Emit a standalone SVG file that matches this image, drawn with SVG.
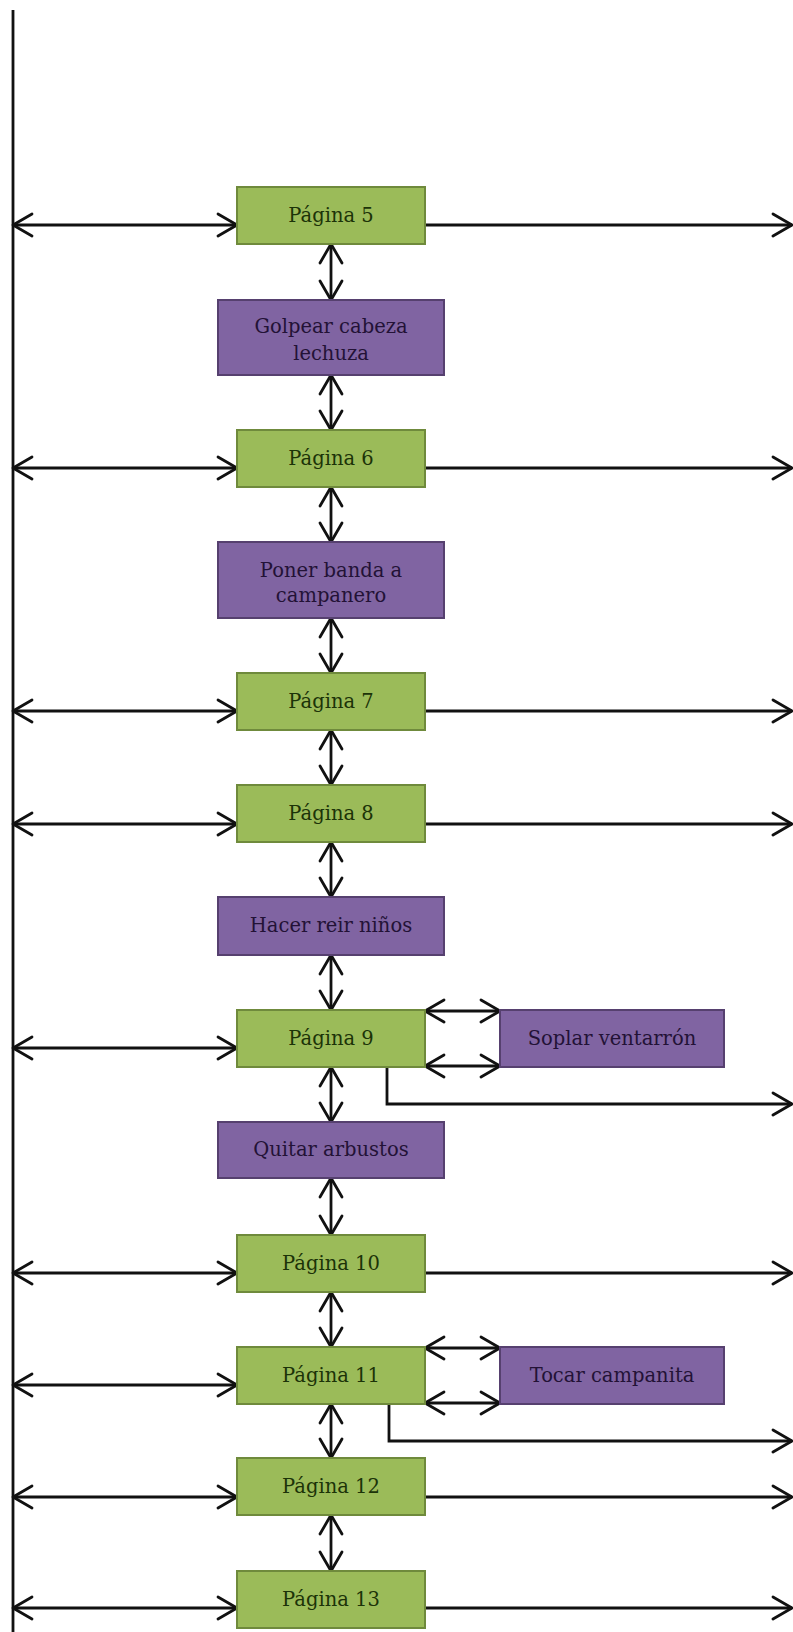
<svg xmlns="http://www.w3.org/2000/svg" width="793" height="1632" viewBox="0 0 793 1632">
<style>
.g rect{fill:#9bbb59;stroke:#6f8a3c;stroke-width:2}
.p rect{fill:#8064a2;stroke:#56406f;stroke-width:2}
text{font-family:"DejaVu Serif","Liberation Serif",serif;font-size:19.5px;text-anchor:middle}
.g text{fill:#1c3308}
.p text{fill:#231236}
.c path,.c line{fill:none;stroke:#111;stroke-width:2.8}
</style>
<defs>
<marker id="ah" viewBox="0 0 26 26" refX="22" refY="13" markerWidth="26" markerHeight="26" markerUnits="userSpaceOnUse" orient="auto-start-reverse">
<path d="M3,2 L22,13 L3,24" fill="none" stroke="#111" stroke-width="2.8" stroke-linecap="round" stroke-linejoin="round"/>
</marker>
</defs>
<rect width="793" height="1632" fill="#fff"/>
<g class="c" id="connectors">
<line x1="13" y1="10" x2="13" y2="1632"/>
<line x1="13" y1="225" x2="237" y2="225" marker-start="url(#ah)" marker-end="url(#ah)"/>
<line x1="13" y1="468" x2="237" y2="468" marker-start="url(#ah)" marker-end="url(#ah)"/>
<line x1="13" y1="711" x2="237" y2="711" marker-start="url(#ah)" marker-end="url(#ah)"/>
<line x1="13" y1="824" x2="237" y2="824" marker-start="url(#ah)" marker-end="url(#ah)"/>
<line x1="13" y1="1048" x2="237" y2="1048" marker-start="url(#ah)" marker-end="url(#ah)"/>
<line x1="13" y1="1273" x2="237" y2="1273" marker-start="url(#ah)" marker-end="url(#ah)"/>
<line x1="13" y1="1385" x2="237" y2="1385" marker-start="url(#ah)" marker-end="url(#ah)"/>
<line x1="13" y1="1497" x2="237" y2="1497" marker-start="url(#ah)" marker-end="url(#ah)"/>
<line x1="13" y1="1608" x2="237" y2="1608" marker-start="url(#ah)" marker-end="url(#ah)"/>
<line x1="425" y1="225" x2="792" y2="225" marker-end="url(#ah)"/>
<line x1="425" y1="468" x2="792" y2="468" marker-end="url(#ah)"/>
<line x1="425" y1="711" x2="792" y2="711" marker-end="url(#ah)"/>
<line x1="425" y1="824" x2="792" y2="824" marker-end="url(#ah)"/>
<path d="M387,1067 V1104 H792" marker-end="url(#ah)"/>
<line x1="425" y1="1273" x2="792" y2="1273" marker-end="url(#ah)"/>
<path d="M389,1404 V1441 H792" marker-end="url(#ah)"/>
<line x1="425" y1="1497" x2="792" y2="1497" marker-end="url(#ah)"/>
<line x1="425" y1="1608" x2="792" y2="1608" marker-end="url(#ah)"/>
<line x1="425" y1="1011" x2="500" y2="1011" marker-start="url(#ah)" marker-end="url(#ah)"/>
<line x1="425" y1="1066" x2="500" y2="1066" marker-start="url(#ah)" marker-end="url(#ah)"/>
<line x1="425" y1="1348" x2="500" y2="1348" marker-start="url(#ah)" marker-end="url(#ah)"/>
<line x1="425" y1="1403" x2="500" y2="1403" marker-start="url(#ah)" marker-end="url(#ah)"/>
<line x1="331" y1="244" x2="331" y2="300" marker-start="url(#ah)" marker-end="url(#ah)"/>
<line x1="331" y1="375" x2="331" y2="430" marker-start="url(#ah)" marker-end="url(#ah)"/>
<line x1="331" y1="487" x2="331" y2="542" marker-start="url(#ah)" marker-end="url(#ah)"/>
<line x1="331" y1="618" x2="331" y2="673" marker-start="url(#ah)" marker-end="url(#ah)"/>
<line x1="331" y1="730" x2="331" y2="785" marker-start="url(#ah)" marker-end="url(#ah)"/>
<line x1="331" y1="842" x2="331" y2="897" marker-start="url(#ah)" marker-end="url(#ah)"/>
<line x1="331" y1="955" x2="331" y2="1010" marker-start="url(#ah)" marker-end="url(#ah)"/>
<line x1="331" y1="1067" x2="331" y2="1122" marker-start="url(#ah)" marker-end="url(#ah)"/>
<line x1="331" y1="1178" x2="331" y2="1235" marker-start="url(#ah)" marker-end="url(#ah)"/>
<line x1="331" y1="1292" x2="331" y2="1347" marker-start="url(#ah)" marker-end="url(#ah)"/>
<line x1="331" y1="1404" x2="331" y2="1458" marker-start="url(#ah)" marker-end="url(#ah)"/>
<line x1="331" y1="1515" x2="331" y2="1571" marker-start="url(#ah)" marker-end="url(#ah)"/>
</g>
<g id="p5" class="g"><rect x="237" y="187" width="188" height="57"/><text x="331" y="222">Página 5</text></g>
<g id="golpear" class="p"><rect x="218" y="300" width="226" height="75"/><text x="331" y="333">Golpear cabeza</text><text x="331" y="360">lechuza</text></g>
<g id="p6" class="g"><rect x="237" y="430" width="188" height="57"/><text x="331" y="465">Página 6</text></g>
<g id="poner" class="p"><rect x="218" y="542" width="226" height="76"/><text x="331" y="577">Poner banda a</text><text x="331" y="602">campanero</text></g>
<g id="p7" class="g"><rect x="237" y="673" width="188" height="57"/><text x="331" y="708">Página 7</text></g>
<g id="p8" class="g"><rect x="237" y="785" width="188" height="57"/><text x="331" y="820">Página 8</text></g>
<g id="hacer" class="p"><rect x="218" y="897" width="226" height="58"/><text x="331" y="932">Hacer reir niños</text></g>
<g id="p9" class="g"><rect x="237" y="1010" width="188" height="57"/><text x="331" y="1045">Página 9</text></g>
<g id="soplar" class="p"><rect x="500" y="1010" width="224" height="57"/><text x="612" y="1045">Soplar ventarrón</text></g>
<g id="quitar" class="p"><rect x="218" y="1122" width="226" height="56"/><text x="331" y="1156">Quitar arbustos</text></g>
<g id="p10" class="g"><rect x="237" y="1235" width="188" height="57"/><text x="331" y="1270">Página 10</text></g>
<g id="p11" class="g"><rect x="237" y="1347" width="188" height="57"/><text x="331" y="1382">Página 11</text></g>
<g id="tocar" class="p"><rect x="500" y="1347" width="224" height="57"/><text x="612" y="1382">Tocar campanita</text></g>
<g id="p12" class="g"><rect x="237" y="1458" width="188" height="57"/><text x="331" y="1493">Página 12</text></g>
<g id="p13" class="g"><rect x="237" y="1571" width="188" height="57"/><text x="331" y="1606">Página 13</text></g>
</svg>
